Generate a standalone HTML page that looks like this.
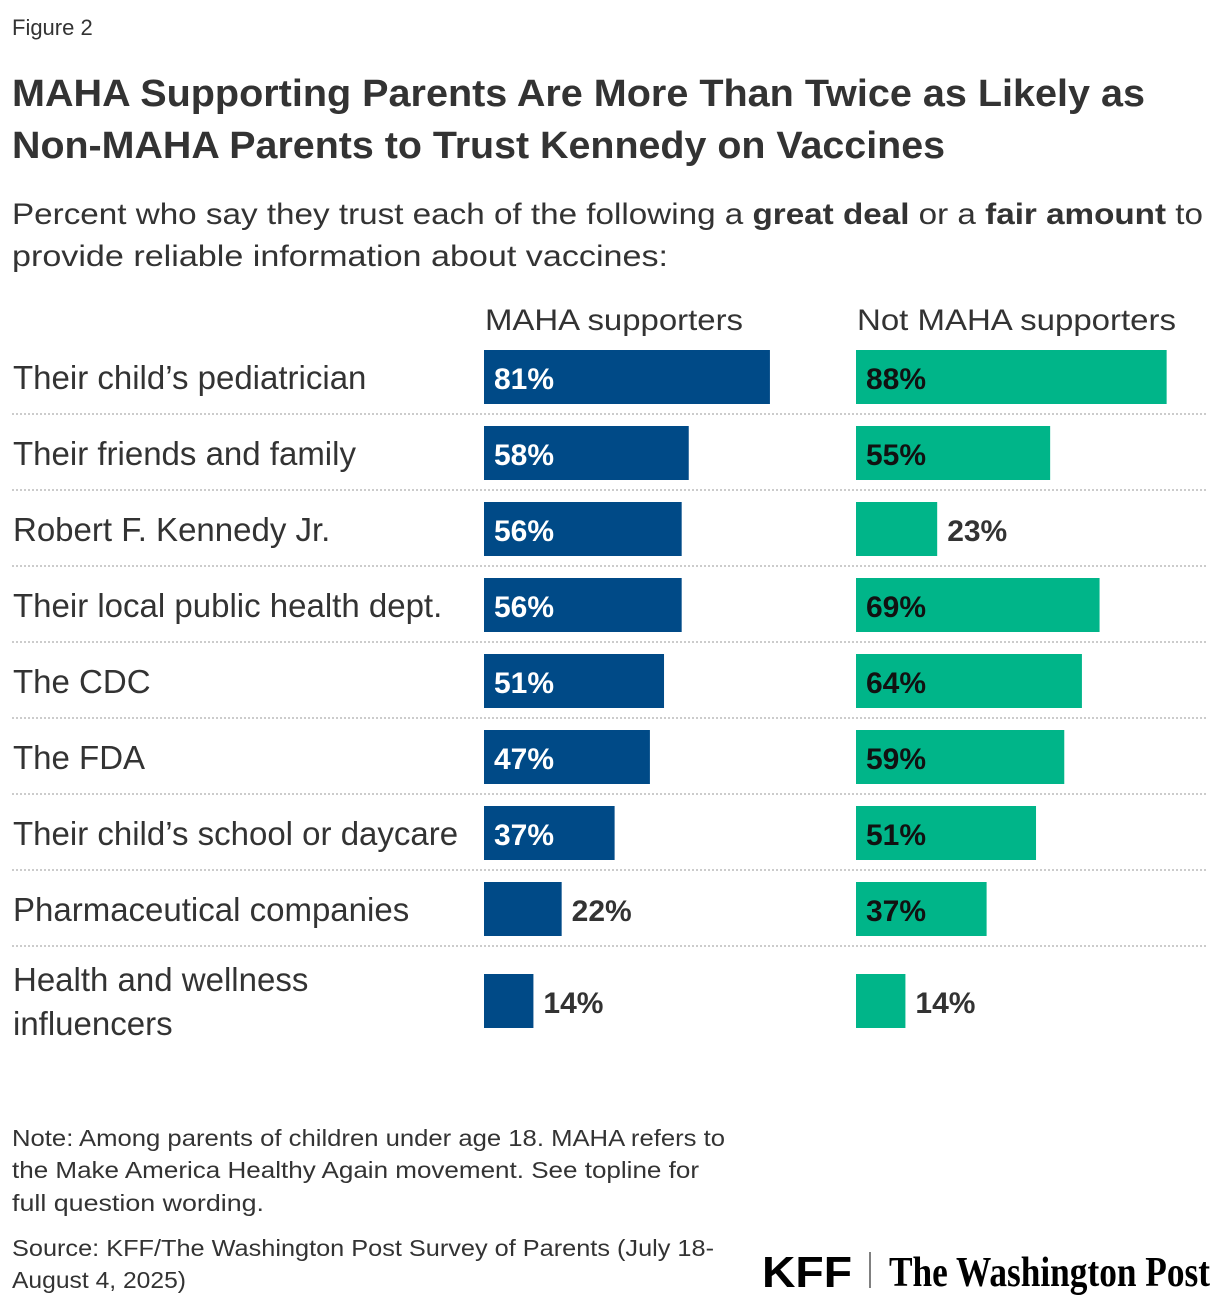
<!DOCTYPE html>
<html><head><meta charset="utf-8"><style>
body{margin:0;background:#fff}
svg{display:block;font-family:"Liberation Sans",sans-serif}
</style></head><body>
<svg id="chart" width="1220" height="1308" viewBox="0 0 1220 1308">
<text x="12" y="35" font-size="22" fill="#333">Figure 2</text>
<g font-weight="bold" font-size="38" fill="#333">
<text x="12" y="106" textLength="1133" lengthAdjust="spacingAndGlyphs">MAHA Supporting Parents Are More Than Twice as Likely as</text>
<text x="12" y="158" textLength="933" lengthAdjust="spacingAndGlyphs">Non-MAHA Parents to Trust Kennedy on Vaccines</text>
</g>
<g font-size="30" fill="#333">
<text x="12" y="224" textLength="1191" lengthAdjust="spacingAndGlyphs">Percent who say they trust each of the following a <tspan font-weight="bold">great deal</tspan> or a <tspan font-weight="bold">fair amount</tspan> to</text>
<text x="12" y="266" textLength="656" lengthAdjust="spacingAndGlyphs">provide reliable information about vaccines:</text>
</g>
<text x="485" y="330" font-size="30" fill="#333" textLength="258" lengthAdjust="spacingAndGlyphs">MAHA supporters</text>
<text x="857" y="330" font-size="30" fill="#333" textLength="319" lengthAdjust="spacingAndGlyphs">Not MAHA supporters</text>
<g id="rows"></g>
<g font-size="23" fill="#333">
<text x="12" y="1146" textLength="713" lengthAdjust="spacingAndGlyphs">Note: Among parents of children under age 18. MAHA refers to</text>
<text x="12" y="1178" textLength="687" lengthAdjust="spacingAndGlyphs">the Make America Healthy Again movement. See topline for</text>
<text x="12" y="1211" textLength="252" lengthAdjust="spacingAndGlyphs">full question wording.</text>
<text x="12" y="1256" textLength="702" lengthAdjust="spacingAndGlyphs">Source: KFF/The Washington Post Survey of Parents (July 18-</text>
<text x="12" y="1288" textLength="174" lengthAdjust="spacingAndGlyphs">August 4, 2025)</text>
</g>
<text x="762" y="1287" font-size="44" font-weight="bold" fill="#000" textLength="90" lengthAdjust="spacingAndGlyphs">KFF</text>
<line x1="870" y1="1252" x2="870" y2="1288" stroke="#555" stroke-width="1.5"/>
<text x="889" y="1286" font-family="Liberation Serif,serif" font-size="42" font-weight="bold" fill="#000" textLength="321" lengthAdjust="spacingAndGlyphs">The Washington Post</text>
</svg>
<script>
const categories=["Their child’s pediatrician","Their friends and family","Robert F. Kennedy Jr.","Their local public health dept.","The CDC","The FDA","Their child’s school or daycare","Pharmaceutical companies","Health and wellness|influencers"];
const mahaValues=[81,58,56,56,51,47,37,22,14];
const notMahaValues=[88,55,23,69,64,59,51,37,14];
const NS="http://www.w3.org/2000/svg";
const g=document.getElementById('rows');
const scale=v=>v*3.53;
const rowY=i=>i<8?350+i*76:974;
function mk(t,a){const e=document.createElementNS(NS,t);for(const k in a)e.setAttribute(k,a[k]);g.appendChild(e);return e;}
categories.forEach((c,i)=>{
  const y=rowY(i);
  const parts=c.split('|');
  const lab=mk('text',{x:13,'font-size':33,fill:'#333'});
  
  
  if(parts.length===1){lab.setAttribute('y',y+39);lab.textContent=c;}
  else{lab.setAttribute('y',y+17);lab.textContent=parts[0];
    const l2=mk('text',{x:13,y:y+61,'font-size':33,fill:'#333'});l2.textContent=parts[1];
    
    }
  [[mahaValues[i],484,'#004a87','#fff'],[notMahaValues[i],856,'#00b589','#111']].forEach(([v,x0,col,tc],k)=>{
    const w=scale(v);
    const r=mk('rect',{x:x0,y:y,width:w,height:54,fill:col});
    
    
    const inside=v>=30;
    const t=mk('text',{x:inside?x0+10:x0+w+10,y:y+39,'font-size':30,'font-weight':'bold',fill:inside?tc:'#333'});
    t.textContent=v+'%';
    
    
  });
  if(i<8){const l=mk('line',{x1:12,x2:1208,y1:y+64,y2:y+64,stroke:'#bbb','stroke-width':1.5,'stroke-dasharray':'2 2'});
    
    }
});
</script>
</body></html>
